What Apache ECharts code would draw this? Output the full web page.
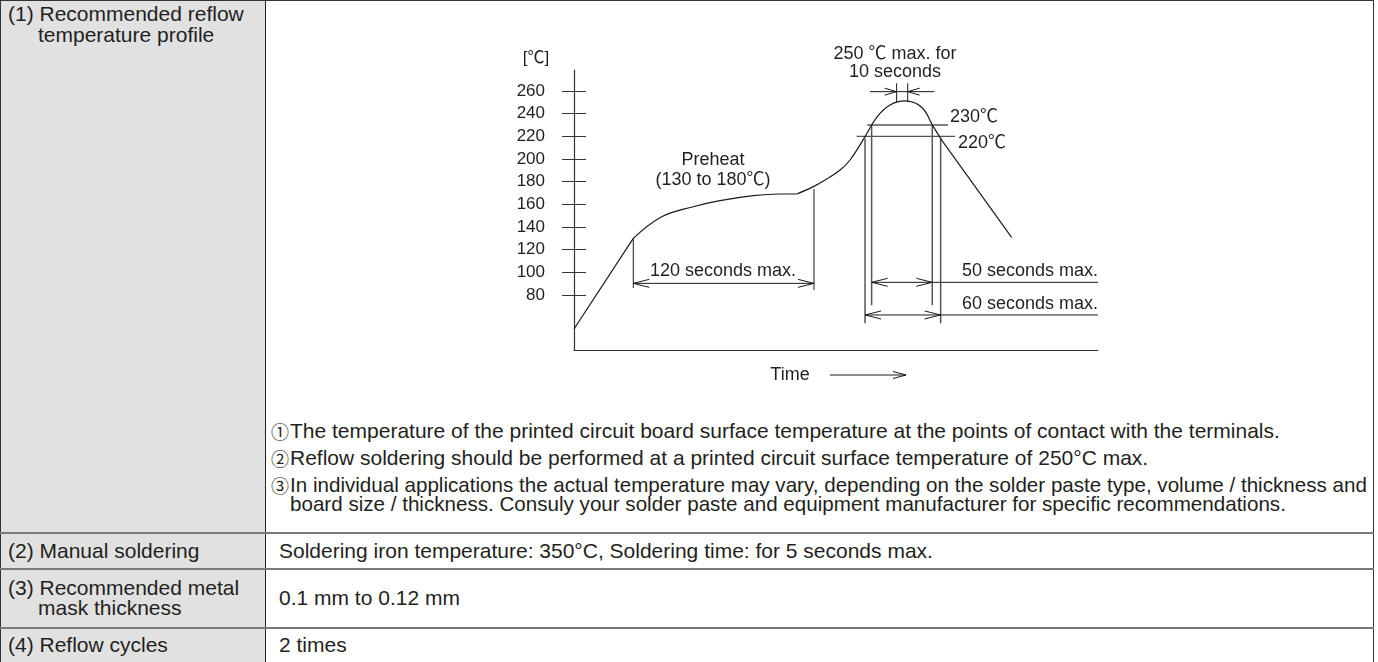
<!DOCTYPE html>
<html>
<head>
<meta charset="utf-8">
<script src="https://cdn.jsdelivr.net/npm/echarts@6/dist/echarts.min.js"></script>
<style>
html, body { margin: 0; padding: 0; background: #fff; width: 1378px; height: 662px; overflow: hidden; }
body { font-family: "Liberation Sans", Arial, Helvetica, sans-serif; color: #231f20; font-size: 21px; }
.t { position: absolute; white-space: nowrap; height: 22px; line-height: 22px; }
.n3 { font-size: 20.6px; }
.c { font-family: "Noto Sans CJK JP", "DejaVu Sans", sans-serif; font-size: 18px; }
.ln { position: absolute; }
#chart { position: absolute; left: 0; top: 0; width: 1378px; height: 662px; z-index: 5; }
</style>
</head>
<body>
<div class="ln" style="left:0;top:0;width:266px;height:700px;background:#e1e1e1"></div>
<div class="ln" style="left:0;top:0;width:1374px;height:1px;background:#333"></div>
<div class="ln" style="left:0;top:0;width:1px;height:700px;background:#333"></div>
<div class="ln" style="left:1373px;top:0;width:1px;height:700px;background:#333"></div>
<div class="ln" style="left:265px;top:0;width:1px;height:700px;background:#222"></div>
<div class="ln" style="left:0;top:532px;width:1374px;height:2px;background:#7a7a7a"></div>
<div class="ln" style="left:0;top:568px;width:1374px;height:2px;background:#7a7a7a"></div>
<div class="ln" style="left:0;top:627px;width:1374px;height:2px;background:#7a7a7a"></div>

<div class="t" style="left:8px;top:3px">(1) Recommended reflow</div>
<div class="t" style="left:38px;top:24px">temperature profile</div>
<div class="t" style="left:8px;top:540px">(2) Manual soldering</div>
<div class="t" style="left:8px;top:577px">(3) Recommended metal</div>
<div class="t" style="left:38px;top:597px">mask thickness</div>
<div class="t" style="left:8px;top:634px">(4) Reflow cycles</div>

<div class="t" style="left:279px;top:540px">Soldering iron temperature: 350°C, Soldering time: for 5 seconds max.</div>
<div class="t" style="left:279px;top:587px">0.1 mm to 0.12 mm</div>
<div class="t" style="left:279px;top:634px">2 times</div>

<div class="t c" style="left:271px;top:420px">①</div>
<div class="t" style="left:290px;top:420px">The temperature of the printed circuit board surface temperature at the points of contact with the terminals.</div>
<div class="t c" style="left:271px;top:447px">②</div>
<div class="t" style="left:290px;top:447px">Reflow soldering should be performed at a printed circuit surface temperature of 250°C max.</div>
<div class="t c" style="left:271px;top:474px">③</div>
<div class="t n3" style="left:290px;top:474px">In individual applications the actual temperature may vary, depending on the solder paste type, volume / thickness and</div>
<div class="t n3" style="left:290px;top:493px">board size / thickness. Consuly your solder paste and equipment manufacturer for specific recommendations.</div>

<div id="chart"></div>
<script>
// ---- axis ticks (°C) ----
const tempTicks = [80, 100, 120, 140, 160, 180, 200, 220, 240, 260];

// ---- temperature profile (time units, °C) ----
const rampTime = [0, 39.6];
const rampTemp = [50, 130];
const preheatTime = [39.6, 58.6, 79.7, 97.5, 119.8, 137.6, 148.7];
const preheatTemp = [130, 149.1, 157.9, 163.2, 167.6, 169.1, 169.1];
const peakTime = [148.7, 159.9, 168.8, 177.7, 184.4, 194.4, 202.2, 211.1, 221.1, 232.2, 240, 245.6];
const peakTemp = [169.1, 175.6, 182.3, 190.3, 199.1, 219.7, 236.8, 247.6, 251.2, 245.6, 228.5, 216.7];
const coolTime = [245.6, 292.3];
const coolTemp = [216.7, 130.9];

// ---- threshold lines ----
const levelTemp = [230, 220];
const levelStart = [195.9, 188.8];
const levelEnd = [249.9, 254.5];

// ---- vertical bracket lines (50 s / 60 s windows) ----
const bracketTime = [194.4, 198.8, 239.3, 244.9];
const bracketTop = [218, 229, 229, 218];
const bracketBottom = [55, 71, 71, 55];

// ---- dimension arrows ----
const dimStart = [39.6, 198.8, 194.4];
const dimEnd = [160.3, 239.3, 244.9];
const dimTemp = [90.3, 91.2, 62.4];
const dimExtendTo = [null, 350, 350];

// ---- preheat window edges ----
const preheatEdgeTime = [39.6, 160.3];
const preheatEdgeTop = [130, 173.5];
const preheatEdgeBottom = [86.2, 84.4];

// ---- peak hold marker (250 °C for 10 s) ----
const holdStart = 215.5;
const holdEnd = 222.9;
const holdArrowTemp = 259.4;
const holdTailLeft = 197.7;
const holdTailRight = 240.7;
const holdTickTop = 266.8;
const holdTickBottom = 250.3;

const zip = (a, b) => a.map((v, i) => [v, b[i]]);
const INK = '#231f20';
const FONT = '"Liberation Sans", Arial, "Noto Sans CJK JP", sans-serif';

function segSeries(rows, color, width, headLen, headHalf) {
  return {
    type: 'custom', coordinateSystem: 'cartesian2d', silent: true, clip: false, z: 3,
    data: rows,
    renderItem: function (params, api) {
      const a = api.coord([api.value(0), api.value(1)]);
      const b = api.coord([api.value(2), api.value(3)]);
      const st = { stroke: color, lineWidth: width, fill: null };
      const kids = [{ type: 'line', shape: { x1: a[0], y1: a[1], x2: b[0], y2: b[1] }, style: st }];
      function head(tip, tail) {
        const dx = tip[0] - tail[0], dy = tip[1] - tail[1];
        const len = Math.hypot(dx, dy) || 1;
        const ux = dx / len, uy = dy / len, nx = -uy, ny = ux;
        kids.push({ type: 'polyline', shape: { points: [
          [tip[0] - ux * headLen + nx * headHalf, tip[1] - uy * headLen + ny * headHalf],
          [tip[0], tip[1]],
          [tip[0] - ux * headLen - nx * headHalf, tip[1] - uy * headLen - ny * headHalf]
        ] }, style: st });
      }
      if (api.value(4)) head(a, b);
      if (api.value(5)) head(b, a);
      return { type: 'group', children: kids };
    }
  };
}

// build segment rows [x1, y1, x2, y2, headAtStart, headAtEnd]
const levelRows = levelTemp.map((v, i) => [levelStart[i], v, levelEnd[i], v, 0, 0]);
const bracketRows = bracketTime.map((t, i) => [t, bracketTop[i], t, bracketBottom[i], 0, 0]);
const dimRows = [];
dimStart.forEach((s, i) => {
  dimRows.push([s, dimTemp[i], dimEnd[i], dimTemp[i], 1, 1]);
  if (dimExtendTo[i] != null) dimRows.push([dimEnd[i], dimTemp[i], dimExtendTo[i], dimTemp[i], 0, 0]);
});
preheatEdgeTime.forEach((t, i) => dimRows.push([t, preheatEdgeTop[i], t, preheatEdgeBottom[i], 0, 0]));
const holdRows = [
  [holdTailLeft, holdArrowTemp, holdStart, holdArrowTemp, 0, 1],
  [holdStart, holdArrowTemp, holdEnd, holdArrowTemp, 0, 0],
  [holdTailRight, holdArrowTemp, holdEnd, holdArrowTemp, 0, 1],
  [holdStart, holdTickTop, holdStart, holdTickBottom, 0, 0],
  [holdEnd, holdTickTop, holdEnd, holdTickBottom, 0, 0]
];

const curveStyle = { color: '#1a1a1a', width: 1.2 };
function curve(xs, ys, smooth) {
  return { type: 'line', data: zip(xs, ys), symbol: 'none', smooth: smooth, lineStyle: curveStyle, z: 4, silent: true };
}

function txt(x, y, text, align, size) {
  return { type: 'text', x: x, y: y, silent: true, z: 10,
    style: { text: text, fill: INK, font: (size || 18) + 'px ' + FONT, textAlign: align || 'center', textVerticalAlign: 'middle' } };
}

const chart = echarts.init(document.getElementById('chart'), null, { renderer: 'canvas' });
const yBase = {
  type: 'value', min: 31.5, max: 278.5, splitLine: { show: false }
};
chart.setOption({
  animation: false,
  backgroundColor: 'transparent',
  grid: { left: 574, top: 70, width: 524, height: 280, containLabel: false },
  xAxis: {
    type: 'value', min: 0, max: 350,
    axisLine: { show: true, lineStyle: { color: '#333', width: 1.2 } },
    axisTick: { show: false }, axisLabel: { show: false }, splitLine: { show: false }
  },
  yAxis: [
    Object.assign({}, yBase, {
      axisLine: { show: true, lineStyle: { color: '#333', width: 1.2 } },
      axisTick: { show: true, inside: false, length: 12, customValues: tempTicks, lineStyle: { color: '#333', width: 1 } },
      axisLabel: { show: true, customValues: tempTicks, margin: 29, color: INK, fontSize: 17, fontFamily: FONT }
    }),
    Object.assign({}, yBase, {
      position: 'left',
      axisLine: { show: false },
      axisTick: { show: true, inside: true, length: 12, customValues: tempTicks, lineStyle: { color: '#333', width: 1 } },
      axisLabel: { show: false }
    })
  ],
  series: [
    curve(rampTime, rampTemp, false),
    curve(preheatTime, preheatTemp, 0.4),
    curve(peakTime, peakTemp, 0.4),
    curve(coolTime, coolTemp, false),
    segSeries(levelRows, '#555', 1.3, 0, 0),
    segSeries(bracketRows, '#555', 1.5, 0, 0),
    segSeries(dimRows, '#1a1a1a', 1, 16, 4),
    segSeries(holdRows, '#1a1a1a', 1, 12, 3.5)
  ],
  graphic: [
    txt(536, 58, '[℃]', 'center', 17),
    txt(895, 54, '250 ℃ max. for'),
    txt(895, 72, '10 seconds'),
    txt(950, 117, '230℃', 'left'),
    txt(958, 143, '220℃', 'left'),
    txt(713, 160, 'Preheat'),
    txt(713, 180, '(130 to 180℃)'),
    txt(723, 271, '120 seconds max.'),
    txt(1098, 271, '50 seconds max.', 'right'),
    txt(1098, 304, '60 seconds max.', 'right'),
    txt(790, 375, 'Time'),
    { type: 'line', silent: true, shape: { x1: 830, y1: 375, x2: 906, y2: 375 }, style: { stroke: '#1a1a1a', lineWidth: 1 } },
    { type: 'polyline', silent: true, shape: { points: [[893, 371.5], [906, 375], [893, 378.5]] }, style: { stroke: '#1a1a1a', lineWidth: 1, fill: null } }
  ]
});
</script>
</body>
</html>
